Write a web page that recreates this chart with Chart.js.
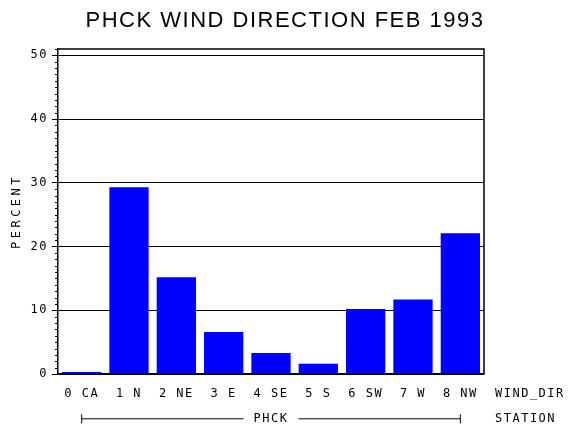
<!DOCTYPE html>
<html>
<head>
<meta charset="utf-8">
<script src="https://cdn.jsdelivr.net/npm/chart.js@4.4.1/dist/chart.umd.min.js"></script>
<style>
  html, body { margin: 0; padding: 0; background: #fff; }
</style>
</head>
<body>
<canvas id="chart" width="570" height="430"></canvas>
<script>
// data
const categories = ['0 CA', '1 N', '2 NE', '3 E', '4 SE', '5 S', '6 SW', '7 W', '8 NW'];
const percentValues = [0.3, 29.3, 15.2, 6.6, 3.3, 1.6, 10.2, 11.7, 22.1];
const yMax = 51;
const yMajorStep = 10;

const chartTitle = 'PHCK WIND DIRECTION FEB 1993';
const stationName = 'PHCK';
const xAxisName = 'WIND_DIR';
const groupAxisName = 'STATION';
const yAxisName = 'PERCENT';

const smallFont = { family: 'DejaVu Sans Mono', size: 12 };

// frame, minor ticks, side labels and the station bracket
const decorPlugin = {
    id: 'decor',
    beforeDraw(chart) {
        chart.ctx.letterSpacing = '1.5px';
    },
    afterDraw(chart) {
        const { ctx, chartArea: a, scales: { x, y } } = chart;
        ctx.save();
        ctx.strokeStyle = '#000';
        ctx.fillStyle = '#000';

        // top and right edge of the frame
        ctx.lineWidth = 1.5;
        ctx.beginPath();
        ctx.moveTo(a.left, a.top);
        ctx.lineTo(a.right, a.top);
        ctx.lineTo(a.right, a.bottom);
        ctx.stroke();

        // minor ticks every 1 %
        ctx.lineWidth = 1;
        ctx.beginPath();
        y.ticks.forEach(t => {
            if (t.value % yMajorStep !== 0) {
                const py = Math.round(y.getPixelForValue(t.value)) + 0.5;
                ctx.moveTo(a.left - 3, py);
                ctx.lineTo(a.left, py);
            }
        });
        ctx.stroke();

        // side labels
        ctx.font = '12px "DejaVu Sans Mono"';
        ctx.textAlign = 'left';
        ctx.textBaseline = 'middle';
        const labelY = a.bottom + 20;
        const bracketY = x.bottom - 11.2;
        ctx.fillText(xAxisName, a.right + 11, labelY);
        ctx.fillText(groupAxisName, a.right + 11, bracketY);

        // bracket under the categories, around the station name
        const x0 = x.getPixelForValue(0);
        const x1 = x.getPixelForValue(categories.length - 1);
        const mid = (x.left + x.right) / 2;
        const half = ctx.measureText(stationName).width / 2 + 10;
        ctx.beginPath();
        ctx.moveTo(x0, bracketY);
        ctx.lineTo(mid - half, bracketY);
        ctx.moveTo(mid + half, bracketY);
        ctx.lineTo(x1, bracketY);
        ctx.moveTo(x0, bracketY - 4.5);
        ctx.lineTo(x0, bracketY + 4.5);
        ctx.moveTo(x1, bracketY - 4.5);
        ctx.lineTo(x1, bracketY + 4.5);
        ctx.stroke();

        // y axis name
        ctx.save();
        ctx.letterSpacing = '3.5px';
        ctx.translate(17, (a.top + a.bottom) / 2);
        ctx.rotate(-Math.PI / 2);
        ctx.textAlign = 'center';
        ctx.fillText(yAxisName, 0, 0);
        ctx.restore();

        // title
        ctx.letterSpacing = '1.5px';
        ctx.font = '22px "Liberation Sans"';
        ctx.textAlign = 'center';
        ctx.fillText(chartTitle, chart.width / 2, 21);

        ctx.restore();
    }
};

const ctx = document.getElementById('chart').getContext('2d');

new Chart(ctx, {
    type: 'bar',
    data: {
        labels: categories,
        datasets: [{
            label: yAxisName,
            data: percentValues,
            backgroundColor: '#0000ff',
            borderWidth: 0,
            categoryPercentage: 1,
            barPercentage: 0.83
        }]
    },
    options: {
        responsive: false,
        animation: false,
        devicePixelRatio: 1,
        layout: { padding: { top: 49, right: 86, left: 0, bottom: 0 } },
        plugins: {
            legend: { display: false },
            tooltip: { enabled: false },
            title: { display: false }
        },
        scales: {
            x: {
                grid: { display: false, drawTicks: false },
                border: { color: '#000', width: 1.5 },
                ticks: {
                    color: '#000',
                    font: smallFont,
                    padding: 13,
                    maxRotation: 0,
                    autoSkip: false
                },
                title: {
                    display: true,
                    text: stationName,
                    color: '#000',
                    font: smallFont,
                    padding: { top: 0, bottom: 4 }
                },
                afterFit: s => { s.height = 56; }
            },
            y: {
                min: 0,
                max: yMax,
                ticks: {
                    stepSize: 1,
                    autoSkip: false,
                    color: '#000',
                    font: smallFont,
                    padding: 4,
                    callback: v => (v % yMajorStep === 0 ? String(v) : '')
                },
                grid: {
                    color: c => (c.tick && c.tick.value % yMajorStep === 0 ? '#000' : 'rgba(0,0,0,0)'),
                    tickColor: c => (c.tick && c.tick.value % yMajorStep === 0 ? '#000' : 'rgba(0,0,0,0)'),
                    tickLength: 6,
                    lineWidth: 1
                },
                border: { color: '#000', width: 1.5 },
                afterFit: s => { s.width = 58; }
            }
        }
    },
    plugins: [decorPlugin]
});
</script>
</body>
</html>
